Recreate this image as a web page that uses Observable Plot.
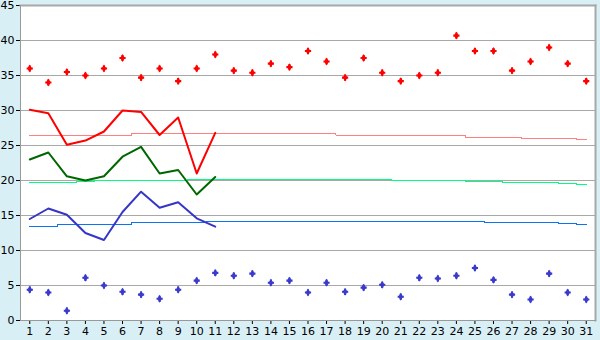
<!DOCTYPE html>
<html>
<head>
<meta charset="utf-8">
<script src="https://cdn.jsdelivr.net/npm/d3@7"></script>
<script src="https://cdn.jsdelivr.net/npm/@observablehq/plot@0.6"></script>
<style>
  html, body { margin: 0; padding: 0; background: #d9eff6; }
  #chart svg { display: block; }
</style>
</head>
<body>
<div id="chart"></div>
<script>
const days = [1,2,3,4,5,6,7,8,9,10,11,12,13,14,15,16,17,18,19,20,21,22,23,24,25,26,27,28,29,30,31];
const yTicks = [0,5,10,15,20,25,30,35,40,45];

// record highs / lows per day
const maxRecord = [36.0,34.0,35.5,35.0,36.0,37.5,34.7,36.0,34.2,36.0,38.0,35.7,35.4,36.7,36.2,38.5,37.0,34.7,37.5,35.4,34.2,35.0,35.4,40.7,38.5,38.5,35.7,37.0,39.0,36.7,34.2];
const minRecord = [4.4,4.0,1.4,6.1,5.0,4.1,3.7,3.1,4.4,5.7,6.8,6.4,6.7,5.4,5.7,4.0,5.4,4.1,4.7,5.1,3.4,6.1,6.0,6.4,7.5,5.8,3.7,3.0,6.7,4.0,3.0];

// current month observed values (days 1-11)
const obsDays = [1,2,3,4,5,6,7,8,9,10,11];
const maxDaily  = [30.1,29.6,25.1,25.7,27.0,30.0,29.8,26.5,29.0,21.0,26.8];
const meanDaily = [23.0,24.0,20.6,20.0,20.6,23.4,24.8,21.0,21.5,18.0,20.5];
const minDaily  = [14.5,16.0,15.1,12.5,11.5,15.5,18.4,16.1,16.9,14.6,13.4];

// long-term averages
const avgMax  = [26.4,26.4,26.4,26.5,26.5,26.5,26.7,26.7,26.7,26.7,26.7,26.7,26.7,26.7,26.7,26.7,26.7,26.5,26.5,26.5,26.4,26.4,26.4,26.4,26.2,26.2,26.1,26.0,26.0,26.0,25.8];
const avgMean = [19.7,19.7,19.7,19.9,20.0,20.0,20.0,20.0,20.0,20.1,20.1,20.1,20.1,20.1,20.1,20.1,20.1,20.1,20.1,20.1,20.0,20.0,20.0,20.0,19.9,19.9,19.7,19.7,19.7,19.6,19.4];
const avgMin  = [13.4,13.5,13.7,13.7,13.7,13.7,14.0,14.0,14.0,14.0,14.1,14.1,14.2,14.2,14.2,14.2,14.2,14.2,14.2,14.2,14.2,14.2,14.2,14.1,14.1,14.0,14.0,14.0,14.0,13.8,13.7];

const rowsAll = days.map((d, i) => ({day: d, maxRec: maxRecord[i], minRec: minRecord[i], aMax: avgMax[i], aMean: avgMean[i], aMin: avgMin[i]}));
const rowsObs = obsDays.map((d, i) => ({day: d, max: maxDaily[i], mean: meanDaily[i], min: minDaily[i]}));

const chart = Plot.plot({
  width: 600,
  height: 340,
  marginLeft: 20,
  marginRight: 5,
  marginTop: 5,
  marginBottom: 20,
  style: {background: "#d9eff6", fontFamily: "'DejaVu Sans', Verdana, sans-serif", fontSize: "11px", color: "black"},
  x: {type: "point", domain: days, padding: 0.5, round: false},
  y: {domain: [0, 45]},
  marks: [
    Plot.frame({fill: "white", stroke: "none"}),
    Plot.gridY(yTicks, {stroke: "#a8a8a8", strokeOpacity: 1}),
    Plot.axisY({ticks: yTicks, tickSize: 4, tickPadding: 2, fontSize: 11, label: null, stroke: "black"}),
    Plot.axisX({tickSize: 4, tickPadding: 3, fontSize: 11, label: null, stroke: "black"}),
    Plot.line(rowsAll, {x: "day", y: "aMax", stroke: "#ff8080", strokeWidth: 1, curve: "step", shapeRendering: "crispEdges"}),
    Plot.line(rowsAll, {x: "day", y: "aMean", stroke: "#00ff80", strokeWidth: 1, curve: "step", shapeRendering: "crispEdges"}),
    Plot.line(rowsAll, {x: "day", y: "aMin", stroke: "#0a74f5", strokeWidth: 1, curve: "step", shapeRendering: "crispEdges"}),
    Plot.line(rowsObs, {x: "day", y: "max", stroke: "#ff0000", strokeWidth: 2}),
    Plot.line(rowsObs, {x: "day", y: "mean", stroke: "#006600", strokeWidth: 2}),
    Plot.line(rowsObs, {x: "day", y: "min", stroke: "#3535c8", strokeWidth: 2}),
    Plot.dot(rowsAll, {x: "day", y: "maxRec", symbol: "diamond", r: 2.4, fill: "#ff0000", stroke: "none"}),
    Plot.dot(rowsAll, {x: "day", y: "maxRec", symbol: "cross", r: 2.6, fill: "#ff0000", stroke: "none"}),
    Plot.dot(rowsAll, {x: "day", y: "minRec", symbol: "diamond", r: 2.4, fill: "#3a3acc", stroke: "none"}),
    Plot.dot(rowsAll, {x: "day", y: "minRec", symbol: "cross", r: 2.6, fill: "#3a3acc", stroke: "none"}),
    Plot.frame({anchor: "top", stroke: "#a8a8a8", strokeWidth: 2}),
    Plot.frame({anchor: "right", stroke: "#a8a8a8", strokeWidth: 2}),
    Plot.frame({anchor: "left", stroke: "#999"}),
    Plot.frame({anchor: "bottom", stroke: "#999"})
  ]
});
document.getElementById("chart").appendChild(chart);
</script>
</body>
</html>
